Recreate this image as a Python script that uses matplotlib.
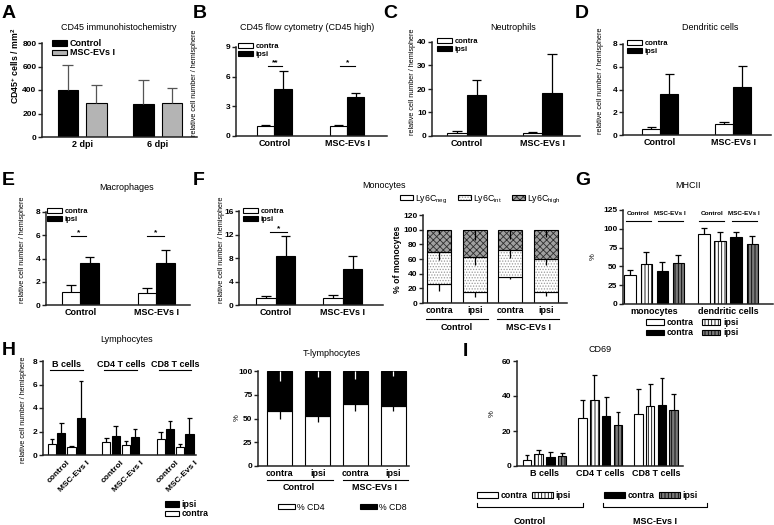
import matplotlib
matplotlib.use('Agg')
import matplotlib.pyplot as plt
import matplotlib.transforms as mtrans
from matplotlib.patches import Patch
from matplotlib.lines import Line2D
import numpy as np

plt.rcParams['font.family'] = ['Liberation Sans', 'DejaVu Sans']
plt.rcParams['hatch.linewidth'] = 0.6
plt.rcParams['mathtext.default'] = 'regular'

# ---------------- data ----------------
two_groups = ['Control', 'MSC-EVs I']

# A  CD45 immunohistochemistry
a_days = ['2 dpi', '6 dpi']
a_control = [396, 282]
a_control_sd = [216, 199]
a_msc = [290, 288]
a_msc_sd = [151, 131]

# B  CD45 flow cytometry
b_contra = [1.04, 0.97]
b_contra_sd = [0.06, 0.16]
b_ipsi = [4.75, 3.98]
b_ipsi_sd = [1.80, 0.40]

# C  Neutrophils
c_contra = [1.4, 1.4]
c_contra_sd = [0.7, 0.45]
c_ipsi = [17.4, 18.1]
c_ipsi_sd = [6.6, 16.8]

# D  Dendritic cells
d_contra = [0.50, 0.99]
d_contra_sd = [0.20, 0.17]
d_ipsi = [3.58, 4.21]
d_ipsi_sd = [1.74, 1.84]

# E  Macrophages
e_contra = [1.16, 1.01]
e_contra_sd = [0.52, 0.49]
e_ipsi = [3.64, 3.58]
e_ipsi_sd = [0.46, 1.13]

# F  Monocytes
f_contra = [1.14, 1.14]
f_contra_sd = [0.46, 0.63]
f_ipsi = [8.3, 6.2]
f_ipsi_sd = [3.4, 2.2]

# F right  Ly6C subsets (% of monocytes)
ly_cats = ['contra', 'ipsi', 'contra', 'ipsi']
ly_neg = [25.6, 14.6, 36.0, 14.6]
ly_neg_sd = [9.2, 5.9, 3.1, 4.6]
ly_int = [43.8, 48.8, 35.7, 45.2]
ly_int_sd = [10.5, 11.4, 9.7, 7.8]
ly_high = [30.6, 36.6, 28.3, 40.2]
ly_high_sd = [6.0, 14.0, 12.3, 10.5]

# G  MHCII (%)  order: Control contra, Control ipsi, MSC contra, MSC ipsi
g_cells = ['monocytes', 'dendritic cells']
g_mono = [39.0, 53.0, 43.3, 54.8]
g_mono_sd = [5.6, 16.0, 12.7, 9.7]
g_dc = [92.8, 84.0, 88.8, 79.5]
g_dc_sd = [7.9, 11.4, 7.5, 11.5]

# H  Lymphocytes  order per group: control contra, control ipsi, MSC contra, MSC ipsi
h_cells = ['B cells', 'CD4 T cells', 'CD8 T cells']
h_conds = ['control', 'MSC-Evs I']
h_vals = [[0.90, 1.84, 0.65, 3.19],
          [1.07, 1.61, 0.82, 1.50],
          [1.33, 2.20, 0.71, 1.81]]
h_sd = [[0.46, 0.90, 0.11, 3.11],
        [0.34, 0.90, 0.39, 0.73],
        [0.62, 0.71, 0.22, 1.35]]

# T-lymphocytes (% CD4 / % CD8)
t_cats = ['contra', 'ipsi', 'contra', 'ipsi']
t_cd4 = [58.2, 52.6, 65.3, 63.0]
t_cd4_sd = [9.2, 5.9, 7.3, 4.8]
t_cd8 = [41.8, 47.4, 34.7, 37.0]
t_cd8_sd = [10.2, 6.0, 8.0, 5.3]

# I  CD69 (%)
i_cells = ['B cells', 'CD4 T cells', 'CD8 T cells']
i_vals = [[3.6, 6.9, 5.1, 5.7],
          [27.6, 37.5, 28.8, 23.6],
          [29.7, 34.5, 34.9, 32.0]]
i_sd = [[2.5, 2.1, 3.1, 1.7],
        [9.9, 14.3, 10.6, 7.3],
        [14.5, 12.5, 15.6, 9.3]]

# ---------------- figure ----------------
W, H = 774, 525
fig = plt.figure(figsize=(W / 100, H / 100), dpi=100)
AX_C = '#222222'
GRAY = '#b4b4b4'
DGRAY = '#7a7a7a'


def px_ax(l, t, r, b):
    return fig.add_axes([l / W, 1 - b / H, (r - l) / W, (b - t) / H])


def ftext(x, y, s, size=6.5, weight='normal', rot=0, ha='center', va='center'):
    fig.text(x / W, 1 - y / H, s, fontsize=size, fontweight=weight,
             rotation=rot, ha=ha, va=va)


def style(ax, yticks, xlim):
    ax.set_xlim(*xlim)
    ax.set_ylim(yticks[0], yticks[-1])
    ax.set_yticks(yticks)
    ax.spines[['top', 'right']].set_visible(False)
    for s in ['left', 'bottom']:
        ax.spines[s].set_linewidth(1.1)
        ax.spines[s].set_color(AX_C)
    ax.tick_params(axis='y', length=3, width=1, labelsize=6, pad=1, color=AX_C)
    ax.tick_params(axis='x', length=0, labelsize=6.5, pad=2.5)
    for t in ax.get_yticklabels():
        t.set_fontweight('bold')
    ax.patch.set_alpha(0)


def hbar(ax, x, h, w, bottom=0, fc='white', hatch=None, hc='k', lw=0.8):
    if hatch:
        ax.bar(x, h, w, bottom=bottom, color=fc, hatch=hatch, edgecolor=hc,
               linewidth=0, zorder=2)
        ax.bar(x, h, w, bottom=bottom, fill=False, edgecolor='k',
               linewidth=lw, zorder=2.1)
    else:
        ax.bar(x, h, w, bottom=bottom, color=fc, edgecolor='k', linewidth=lw,
               zorder=2)


def err_up(ax, x, v, sd, cap, color='k', lw=0.9):
    ax.vlines(x, v, v + sd, colors=color, lw=lw, zorder=3)
    ax.hlines(v + sd, x - cap, x + cap, colors=color, lw=lw, zorder=3)


def err_down(ax, x, top, sd, color='k', lw=0.9):
    ax.vlines(x, top - sd, top, colors=color, lw=lw, zorder=3)


def leg(handles, labels, x, y, fs=5.5, bold=True, hl=2.0, hh=0.65, ncol=1,
        cs=1.0, ls=0.05, htp=0.3):
    lg = fig.legend(handles, labels, loc='upper left',
                    bbox_to_anchor=(x / W, 1 - y / H),
                    bbox_transform=fig.transFigure, frameon=False,
                    handlelength=hl, handleheight=hh, ncol=ncol,
                    columnspacing=cs, labelspacing=ls, handletextpad=htp,
                    borderpad=0, borderaxespad=0,
                    prop={'weight': 'bold' if bold else 'normal', 'size': fs})
    return lg


def sig(ax, x0, x1, y, s):
    ax.plot([x0, x1], [y, y], color='k', lw=0.8, clip_on=False)
    ax.text((x0 + x1) / 2, y, s, ha='center', va='bottom', fontsize=6,
            fontweight='bold')


white_h = Patch(facecolor='white', edgecolor='k', linewidth=0.8)
black_h = Patch(facecolor='black', edgecolor='k', linewidth=0.8)


def pair_panel(ax, contra, contra_sd, ipsi, ipsi_sd, w, yticks, xlim):
    x = np.arange(len(two_groups))
    for i in x:
        hbar(ax, i - w / 2, contra[i], w, fc='white')
        hbar(ax, i + w / 2, ipsi[i], w, fc='black')
        err_up(ax, i - w / 2, contra[i], contra_sd[i], w * 0.25)
        err_up(ax, i + w / 2, ipsi[i], ipsi_sd[i], w * 0.25)
    style(ax, yticks, xlim)
    ax.set_xticks(x, two_groups, fontweight='bold')


# ---------------- Panel A ----------------
ax = px_ax(42, 43, 197, 137)
xa = np.arange(len(a_days))
wa = 0.27
for i in xa:
    hbar(ax, i - 0.19, a_control[i], wa, fc='black')
    hbar(ax, i + 0.19, a_msc[i], wa, fc=GRAY)
    err_up(ax, i - 0.19, a_control[i], a_control_sd[i], 0.07, color='#555')
    err_up(ax, i + 0.19, a_msc[i], a_msc_sd[i], 0.07, color='#555')
style(ax, [0, 200, 400, 600, 800], (-0.53, 1.52))
ax.set_xticks(xa, a_days, fontweight='bold')
leg([black_h, Patch(facecolor=GRAY, edgecolor='k', linewidth=0.8)],
    ['Control', 'MSC-EVs I'], 52, 39, fs=6.5, hl=1.65, hh=0.55)
ftext(119, 27, 'CD45 immunohistochemistry')
ftext(15, 66, r'CD45$^{+}$ cells / mm$^{2}$', size=6.3, weight='bold', rot=90)

# ---------------- Panel B ----------------
ax = px_ax(236, 47, 387, 136)
pair_panel(ax, b_contra, b_contra_sd, b_ipsi, b_ipsi_sd, 0.24,
           [0, 3, 6, 9], (-0.53, 1.55))
sig(ax, -0.09, 0.1, 7.05, '**')
sig(ax, 0.9, 1.11, 7.05, '*')
leg([white_h, black_h], ['contra', 'ipsi'], 238, 43)
ftext(307, 27, 'CD45 flow cytometry (CD45 high)')
ftext(194, 83, 'relative cell number / hemisphere', size=5.2, rot=90)

# ---------------- Panel C ----------------
ax = px_ax(432, 42, 580, 136)
pair_panel(ax, c_contra, c_contra_sd, c_ipsi, c_ipsi_sd, 0.26,
           [0, 10, 20, 30, 40], (-0.46, 1.5))
leg([white_h, black_h], ['contra', 'ipsi'], 437, 38)
ftext(513, 27, 'Neutrophils')
ftext(413, 82, 'relative cell number / hemisphere', size=5.2, rot=90)

# ---------------- Panel D ----------------
ax = px_ax(623, 44, 771, 135)
pair_panel(ax, d_contra, d_contra_sd, d_ipsi, d_ipsi_sd, 0.25,
           [0, 2, 4, 6, 8], (-0.51, 1.52))
leg([white_h, black_h], ['contra', 'ipsi'], 627, 40)
ftext(710, 27, 'Dendritic cells')
ftext(601, 81, 'relative cell number / hemisphere', size=5.2, rot=90)

# ---------------- Panel E ----------------
ax = px_ax(46, 212, 190, 305)
pair_panel(ax, e_contra, e_contra_sd, e_ipsi, e_ipsi_sd, 0.245,
           [0, 2, 4, 6, 8], (-0.45, 1.44))
sig(ax, -0.12, 0.08, 5.94, '*')
sig(ax, 0.88, 1.1, 5.94, '*')
leg([white_h, black_h], ['contra', 'ipsi'], 47, 208)
ftext(127, 187, 'Macrophages')
ftext(23, 250, 'relative cell number / hemisphere', size=5.2, rot=90)

# ---------------- Panel F left ----------------
ax = px_ax(239, 211, 383, 305)
pair_panel(ax, f_contra, f_contra_sd, f_ipsi, f_ipsi_sd, 0.29,
           [0, 4, 8, 12, 16], (-0.55, 1.6))
sig(ax, -0.09, 0.16, 12.4, '*')
leg([white_h, black_h], ['contra', 'ipsi'], 243, 208)
ftext(384, 185, 'Monocytes')
ftext(221, 250, 'relative cell number / hemisphere', size=5.2, rot=90)

# ---------------- Panel F right (Ly6C) ----------------
ax = px_ax(423, 215, 567, 303)
xl = np.arange(len(ly_cats))
wl = 0.67
int_fc, int_hc = 'white', '#9a9a9a'
hi_fc, hi_hc = '#a0a0a0', '#2e2e2e'
for i in xl:
    hbar(ax, i, ly_neg[i], wl, fc='white')
    hbar(ax, i, ly_int[i], wl, bottom=ly_neg[i], fc=int_fc, hatch='......', hc=int_hc)
    hbar(ax, i, ly_high[i], wl, bottom=ly_neg[i] + ly_int[i], fc=hi_fc,
         hatch='xxxxx', hc=hi_hc)
    err_down(ax, i, ly_neg[i], ly_neg_sd[i])
    err_down(ax, i, ly_neg[i] + ly_int[i], ly_int_sd[i])
    err_down(ax, i, ly_neg[i] + ly_int[i] + ly_high[i], ly_high_sd[i])
style(ax, [0, 20, 40, 60, 80, 100, 120], (-0.45, 3.59))
ax.set_xticks(xl, ly_cats, fontweight='bold')
ax.set_ylabel('% of monocytes', fontsize=6.3, fontweight='bold', labelpad=1)
tr = mtrans.blended_transform_factory(ax.transData, fig.transFigure)
for k, g in enumerate(two_groups):
    ax.plot([2 * k - 0.36, 2 * k + 1.36], [1 - 319 / H] * 2, color='k', lw=0.8,
            transform=tr, clip_on=False)
    ax.text(2 * k + 0.5, 1 - 327 / H, g, transform=tr, ha='center', va='center',
            fontsize=6.5, fontweight='bold')
ly_handles = [white_h,
              (Patch(facecolor=int_fc, hatch='......', edgecolor=int_hc, linewidth=0),
               Patch(fill=False, edgecolor='k', linewidth=0.8)),
              (Patch(facecolor=hi_fc, hatch='xxxxx', edgecolor=hi_hc, linewidth=0),
               Patch(fill=False, edgecolor='k', linewidth=0.8))]
leg(ly_handles, ['Ly6C$_{neg}$', 'Ly6C$_{int}$', 'Ly6C$_{high}$'], 400, 193,
    fs=6.3, bold=False, hl=1.5, hh=0.5, ncol=3, cs=1.2, htp=0.2)

# ---------------- Panel G (MHCII) ----------------
ax = px_ax(623, 210, 773, 304)
g_off = [0.0, 4.6]
xs4 = np.arange(4)
wg = 0.7
g_fcs = ['white', 'white', 'black', DGRAY]
g_hatch = [None, '|||||', None, '|||||']
for gi, vals, sds in zip(range(2), [g_mono, g_dc], [g_mono_sd, g_dc_sd]):
    for j in xs4:
        xx = g_off[gi] + j
        hbar(ax, xx, vals[j], wg, fc=g_fcs[j], hatch=g_hatch[j], hc='k')
        err_up(ax, xx, vals[j], sds[j], wg * 0.28)
    for k, g in enumerate(two_groups):
        cx = g_off[gi] + 2 * k + 0.5
        ax.plot([cx - 0.78, cx + 0.78], [110, 110], color='k', lw=0.8, clip_on=False)
        ax.text(cx, 121, g, ha='center', va='center', fontsize=4.6, fontweight='bold')
style(ax, [0, 25, 50, 75, 100, 125], (-0.44, 8.9))
ax.set_xticks([g_off[0] + 1.5, g_off[1] + 1.5], g_cells, fontweight='bold')
ftext(688, 185, 'MHCII')
ftext(593, 257, '%', size=5.5, rot=90)
g_handles = [white_h, black_h,
             Patch(facecolor='white', hatch='|||||', edgecolor='k', linewidth=0.8),
             Patch(facecolor=DGRAY, hatch='|||||', edgecolor='k', linewidth=0.8)]
leg(g_handles, ['contra', 'contra', 'ipsi', 'ipsi'], 646, 318, fs=6.3,
    hl=2.1, hh=0.55, ncol=2, cs=0.9, ls=0.15)

# ---------------- Panel H (Lymphocytes) ----------------
ax = px_ax(43, 361, 196, 455)
h_pos = [0.0, 1.0, 2.1, 3.1]
h_goff = [0.0, 5.85, 11.7]
h_fcs = ['white', 'black', 'white', 'black']
wh = 0.88
for gi in range(len(h_cells)):
    for j in range(4):
        xx = h_goff[gi] + h_pos[j]
        hbar(ax, xx, h_vals[gi][j], wh, fc=h_fcs[j])
        err_up(ax, xx, h_vals[gi][j], h_sd[gi][j], wh * 0.28)
    cx = h_goff[gi] + 1.55
    ax.text(cx, 7.7, h_cells[gi], ha='center', va='center', fontsize=6.5,
            fontweight='bold')
    ax.plot([cx - 1.75, cx + 1.75], [7.2, 7.2], color='k', lw=0.8, clip_on=False)
    for k, cond in enumerate(h_conds):
        px = h_goff[gi] + (0.5 if k == 0 else 2.6) + 1.05
        ax.text(px, -0.35, cond, ha='right', va='top', rotation=45,
                rotation_mode='anchor', fontsize=6, fontweight='bold')
style(ax, [0, 2, 4, 6, 8], (-0.97, 15.5))
ax.set_xticks([])
ftext(127, 339, 'Lymphocytes')
ftext(24, 410, 'relative cell number / hemisphere', size=5.2, rot=90)
leg([black_h, white_h], ['ipsi', 'contra'], 165, 500, fs=6.3, hl=1.6, hh=0.55)

# ---------------- T-lymphocytes ----------------
ax = px_ax(258, 371, 409, 466)
xt = np.arange(len(t_cats))
wt = 0.66
for i in xt:
    hbar(ax, i, t_cd4[i], wt, fc='white')
    hbar(ax, i, t_cd8[i], wt, bottom=t_cd4[i], fc='black')
    err_down(ax, i, t_cd4[i], t_cd4_sd[i], color='k')
    err_down(ax, i, t_cd4[i] + t_cd8[i], t_cd8_sd[i], color='white')
style(ax, [0, 25, 50, 75, 100], (-0.58, 3.42))
ax.set_xticks(xt, t_cats, fontweight='bold')
tr = mtrans.blended_transform_factory(ax.transData, fig.transFigure)
for k, g in enumerate(two_groups):
    ax.plot([2 * k - 0.34, 2 * k + 1.4], [1 - 480 / H] * 2, color='k', lw=0.8,
            transform=tr, clip_on=False)
    ax.text(2 * k + 0.5, 1 - 488 / H, g, transform=tr, ha='center', va='center',
            fontsize=6.5, fontweight='bold')
ftext(332, 353, 'T-lymphocytes')
ftext(237, 418, '%', size=5.5, rot=90)
leg([white_h, black_h], ['% CD4', '% CD8'], 278, 503, fs=6.3, bold=False,
    hl=1.9, hh=0.5, ncol=2, cs=4.0)

# ---------------- Panel I (CD69) ----------------
ax = px_ax(517, 361, 683, 466)
i_goff = [0.0, 4.75, 9.5]
i_fcs = ['white', 'white', 'black', DGRAY]
i_hatch = [None, '|||||', None, '|||||']
wi = 0.72
for gi in range(len(i_cells)):
    for j in range(4):
        xx = i_goff[gi] + j
        hbar(ax, xx, i_vals[gi][j], wi, fc=i_fcs[j], hatch=i_hatch[j])
        err_up(ax, xx, i_vals[gi][j], i_sd[gi][j], wi * 0.28)
style(ax, [0, 20, 40, 60], (-0.85, 13.3))
ax.set_xticks([g + 1.5 for g in i_goff], i_cells, fontweight='bold')
ftext(600, 350, 'CD69')
ftext(492, 414, '%', size=5.5, rot=90)
leg([white_h, Patch(facecolor='white', hatch='|||||', edgecolor='k', linewidth=0.8)],
    ['contra', 'ipsi'], 477, 491, fs=6.3, hl=2.4, hh=0.55, ncol=2, cs=0.5)
leg([black_h, Patch(facecolor=DGRAY, hatch='|||||', edgecolor='k', linewidth=0.8)],
    ['contra', 'ipsi'], 604, 491, fs=6.3, hl=2.4, hh=0.55, ncol=2, cs=0.5)
for (x0, x1, lab) in [(477, 583, 'Control'), (603, 707, 'MSC-Evs I')]:
    fig.add_artist(Line2D([x0 / W, x0 / W, x1 / W, x1 / W],
                          [1 - 503 / H, 1 - 507 / H, 1 - 507 / H, 1 - 503 / H],
                          color='k', lw=0.8))
    ftext((x0 + x1) / 2, 522, lab, size=6.5, weight='bold')

# ---------------- panel letters ----------------
for s, x, y in [('A', 2, 5), ('B', 193, 5), ('C', 383, 5), ('D', 575, 5),
                ('E', 2, 172), ('F', 193, 172), ('G', 575, 172),
                ('H', 2, 342), ('I', 463, 343)]:
    fig.text(x / W, 1 - y / H, s, fontsize=14, fontweight='bold',
             ha='left', va='top')

fig.savefig('out.png', dpi=100)
